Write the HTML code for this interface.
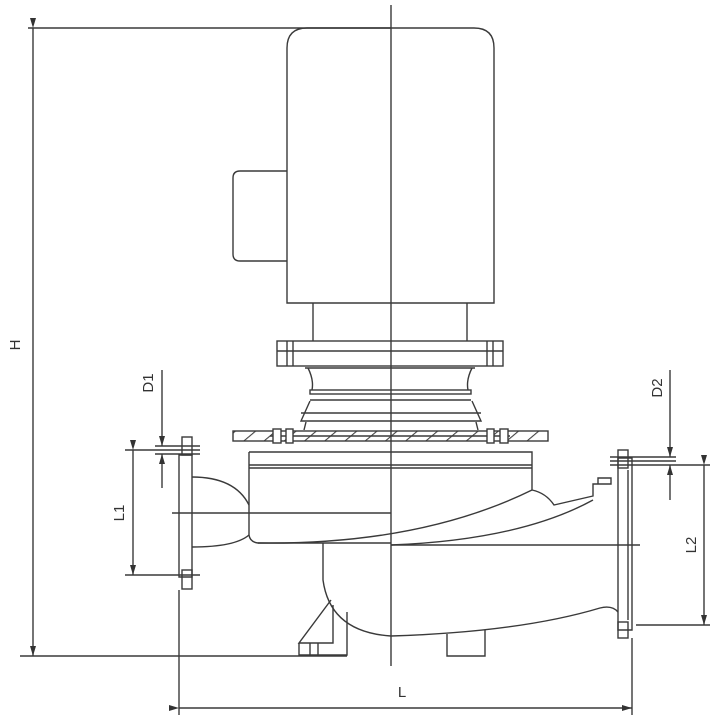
<!DOCTYPE html>
<html><head><style>
html,body{margin:0;padding:0;background:#fff;}
svg{display:block;}
text{font-family:"Liberation Sans",sans-serif;fill:#333;font-size:15px;}
</style></head><body>
<svg width="715" height="720" viewBox="0 0 715 720" xmlns="http://www.w3.org/2000/svg">
<defs>
<marker id="a" markerWidth="10" markerHeight="6" refX="10" refY="3" orient="auto" markerUnits="userSpaceOnUse"><path d="M0,0 L10,3 L0,6 Z" fill="#333"/></marker>
<pattern id="h" width="13" height="13" patternUnits="userSpaceOnUse" patternTransform="rotate(50)"><line x1="0" y1="0" x2="0" y2="13" stroke="#444" stroke-width="2.2"/></pattern>
</defs>
<g fill="none" stroke="#3a3a3a" stroke-width="1.4">
<line x1="391" y1="5" x2="391" y2="666"/>
<path d="M287,303 V48 Q287,28 307,28 H474 Q494,28 494,48 V303 Z"/>
<path d="M287,171 H240 Q233,171 233,178 V254 Q233,261 240,261 H287"/>
<line x1="313" y1="303" x2="313" y2="341"/>
<line x1="467" y1="303" x2="467" y2="341"/>
<rect x="277" y="341" width="226" height="25"/>
<line x1="277" y1="351" x2="503" y2="351"/>
<line x1="287" y1="341" x2="287" y2="366"/><line x1="293" y1="341" x2="293" y2="366"/>
<line x1="487" y1="341" x2="487" y2="366"/><line x1="493" y1="341" x2="493" y2="366"/>
<line x1="305" y1="368" x2="475" y2="368"/>
<path d="M308,368 Q314,380 312,390 M472,368 Q466,380 468,390"/>
<rect x="310" y="390" width="161" height="4"/>
<line x1="310" y1="400" x2="471" y2="400"/>
<path d="M310,401 L301,421 H481 L472,401"/>
<line x1="301" y1="413" x2="481" y2="413"/>
<path d="M306,422 L304,430 M476,422 L478,430"/>
<rect x="233" y="431" width="315" height="10" fill="url(#h)"/>
<line x1="270" y1="436" x2="510" y2="436"/>
<rect x="273" y="429" width="8" height="14" fill="#fff"/><rect x="286" y="429" width="7" height="14" fill="#fff"/>
<rect x="487" y="429" width="7" height="14" fill="#fff"/><rect x="500" y="429" width="8" height="14" fill="#fff"/>
<path d="M249,452 H532 V490"/>
<line x1="249" y1="465" x2="532" y2="465"/>
<line x1="249" y1="468" x2="532" y2="468"/>
<path d="M249,452 V535 Q250,542 258,543 H391"/>
<path d="M258,543 Q420,545 532,490 Q546,493 554,505 L593,496 V484 H611 V478 H598 V484"/>
<path d="M391,545 Q520,540 593,500"/>
<path d="M192,477 Q235,477 249,505 M192,547 Q235,547 249,535"/>
<line x1="172" y1="513" x2="391" y2="513"/>
<path d="M179,455 V577 H192 V455 Z"/>
<rect x="182" y="437" width="10" height="18"/>
<rect x="182" y="570" width="10" height="19"/>
<path d="M323,543 V580 Q330,632 391,636 Q520,632 600,608 Q612,605 618,612"/>
<line x1="391" y1="545" x2="640" y2="545"/>
<path d="M618,458 V630 H632 V458 Z"/>
<line x1="628" y1="470" x2="628" y2="620"/>
<rect x="618" y="450" width="10" height="18"/>
<rect x="618" y="622" width="10" height="16"/>
<path d="M331,600 L299,643 H333 V605"/>
<path d="M347,612 V655 H299 V643 M310,643 V655 M318,643 V655"/>
<path d="M447,634 V656 H485 V630"/>
<line x1="28" y1="28" x2="391" y2="28"/>
<line x1="20" y1="656" x2="347" y2="656"/>
<line x1="33" y1="28" x2="33" y2="656" marker-start="url(#a)" marker-end="url(#a)"/>
<line x1="179" y1="590" x2="179" y2="715"/>
<line x1="632" y1="638" x2="632" y2="715"/>
<line x1="179" y1="708" x2="632" y2="708" marker-start="url(#a)" marker-end="url(#a)"/>
<line x1="125" y1="450" x2="200" y2="450"/>
<line x1="125" y1="575" x2="200" y2="575"/>
<line x1="155" y1="446" x2="200" y2="446"/>
<line x1="155" y1="454" x2="200" y2="454"/>
<line x1="133" y1="450" x2="133" y2="575" marker-start="url(#a)" marker-end="url(#a)"/>
<line x1="162" y1="370" x2="162" y2="446" marker-end="url(#a)"/>
<line x1="162" y1="488" x2="162" y2="454" marker-end="url(#a)"/>
<line x1="610" y1="457" x2="676" y2="457"/>
<line x1="610" y1="461" x2="676" y2="461"/>
<line x1="610" y1="465" x2="710" y2="465"/>
<line x1="636" y1="625" x2="710" y2="625"/>
<line x1="704" y1="465" x2="704" y2="625" marker-start="url(#a)" marker-end="url(#a)"/>
<line x1="670" y1="370" x2="670" y2="457" marker-end="url(#a)"/>
<line x1="670" y1="500" x2="670" y2="465" marker-end="url(#a)"/>
</g>
<text transform="translate(20,345) rotate(-90)" text-anchor="middle">H</text>
<text x="402" y="697" text-anchor="middle">L</text>
<text transform="translate(124,513) rotate(-90)" text-anchor="middle">L1</text>
<text transform="translate(153,383) rotate(-90)" text-anchor="middle">D1</text>
<text transform="translate(696,545) rotate(-90)" text-anchor="middle">L2</text>
<text transform="translate(662,388) rotate(-90)" text-anchor="middle">D2</text>
</svg>
</body></html>
